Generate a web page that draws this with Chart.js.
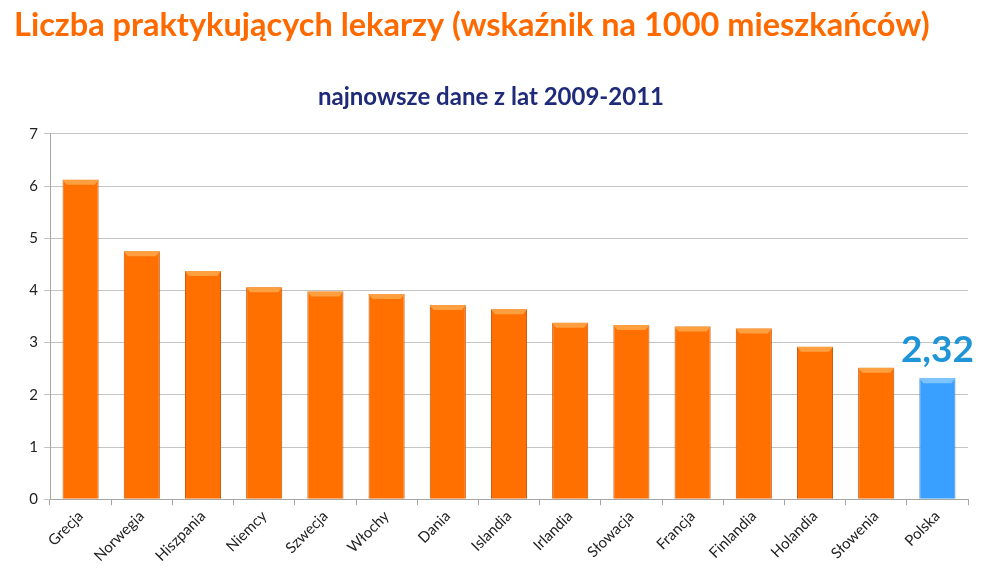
<!DOCTYPE html>
<html>
<head>
<meta charset="utf-8">
<script src="https://cdn.jsdelivr.net/npm/chart.js@4/dist/chart.umd.min.js"></script>
<style>
  html, body { margin: 0; padding: 0; background: #fff; }
  #wrap { width: 994px; height: 571px; position: relative; }
</style>
</head>
<body>
<div id="wrap"><canvas id="chart" width="994" height="571"></canvas></div>
<script>
const countries = ['Grecja', 'Norwegia', 'Hiszpania', 'Niemcy', 'Szwecja', 'Włochy', 'Dania', 'Islandia',
  'Irlandia', 'Słowacja', 'Francja', 'Finlandia', 'Holandia', 'Słowenia', 'Polska'];
const doctorsPer1000 = [6.12, 4.75, 4.37, 4.06, 3.98, 3.93, 3.72, 3.64, 3.38, 3.34, 3.31, 3.27, 2.92, 2.52, 2.32];
const highlightLabel = '2,32';
const highlightIndex = countries.indexOf('Polska');

const FONT = 'Lato, "Open Sans", sans-serif';

function barFill(ctx) {
  const blue = ctx.dataIndex === highlightIndex;
  const el = ctx.element;
  const chart = ctx.chart;
  if (!el || !chart.chartArea || !isFinite(el.x)) return blue ? '#3aa0ff' : '#ff7000';
  const w = el.width || 36;
  const g = chart.ctx.createLinearGradient(el.x - w / 2, 0, el.x + w / 2, 0);
  if (blue) {
    g.addColorStop(0, '#2a7fd0');
    g.addColorStop(0.08, '#3ba2ff');
    g.addColorStop(0.92, '#3ba2ff');
    g.addColorStop(1, '#2a7fd0');
  } else {
    g.addColorStop(0, '#d95a00');
    g.addColorStop(0.08, '#ff7000');
    g.addColorStop(0.92, '#ff7000');
    g.addColorStop(1, '#cf5500');
  }
  return g;
}

// light bevel on top of each bar + value label over Polska
const bevelPlugin = {
  id: 'bevel',
  afterDatasetsDraw(chart) {
    const c = chart.ctx;
    const meta = chart.getDatasetMeta(0);
    meta.data.forEach((bar, i) => {
      const blue = i === highlightIndex;
      const l = bar.x - bar.width / 2, r = bar.x + bar.width / 2, t = bar.y;
      c.save();
      c.beginPath();
      c.moveTo(l, t);
      c.lineTo(r, t);
      c.lineTo(r - 4, t + 5);
      c.lineTo(l + 4, t + 5);
      c.closePath();
      c.fillStyle = blue ? '#7cc4ff' : '#ffa040';
      c.fill();
      c.restore();
    });
    const pb = meta.data[highlightIndex];
    c.save();
    c.font = 'bold 37px ' + FONT;
    c.fillStyle = '#1f95d8';
    c.textAlign = 'center';
    c.textBaseline = 'alphabetic';
    c.fillText(highlightLabel, pb.x, pb.y - 16);
    c.restore();
  }
};

new Chart(document.getElementById('chart'), {
  type: 'bar',
  data: {
    labels: countries,
    datasets: [{
      data: doctorsPer1000,
      backgroundColor: barFill,
      borderColor: ctx => ctx.dataIndex === highlightIndex ? '#2a7fd0' : '#c85200',
      borderWidth: 1,
      borderSkipped: 'bottom',
      categoryPercentage: 1,
      barPercentage: 0.59
    }]
  },
  options: {
    responsive: false,
    animation: false,
    layout: { padding: { left: 14, right: 26, top: 0, bottom: 4 } },
    scales: {
      x: {
        grid: { display: true, drawOnChartArea: false, offset: true, color: '#a6a6a6', tickLength: 6 },
        border: { color: '#a6a6a6' },
        ticks: { color: '#222', font: { family: FONT, size: 15 }, minRotation: 45, maxRotation: 45, padding: 2 }
      },
      y: {
        min: 0,
        max: 7,
        afterFit(scale) { scale.width = 36; },
        grid: { color: '#c4c4c4', tickLength: 6, lineWidth: 1 },
        border: { color: '#a6a6a6' },
        ticks: { stepSize: 1, color: '#222', font: { family: FONT, size: 15 }, padding: 6 }
      }
    },
    plugins: {
      legend: { display: false },
      tooltip: { enabled: false },
      title: {
        display: true,
        text: 'Liczba praktykujących lekarzy (wskaźnik na 1000 mieszkańców)',
        align: 'start',
        color: '#ff6a00',
        font: { family: FONT, size: 32.5, weight: 'bold' },
        padding: { top: 6, bottom: 38 }
      },
      subtitle: {
        display: true,
        text: 'najnowsze dane z lat 2009-2011',
        color: '#1f2b7a',
        font: { family: FONT, size: 24, weight: 'bold' },
        padding: { top: 0, bottom: 22 }
      }
    }
  },
  plugins: [bevelPlugin]
});
</script>
</body>
</html>
